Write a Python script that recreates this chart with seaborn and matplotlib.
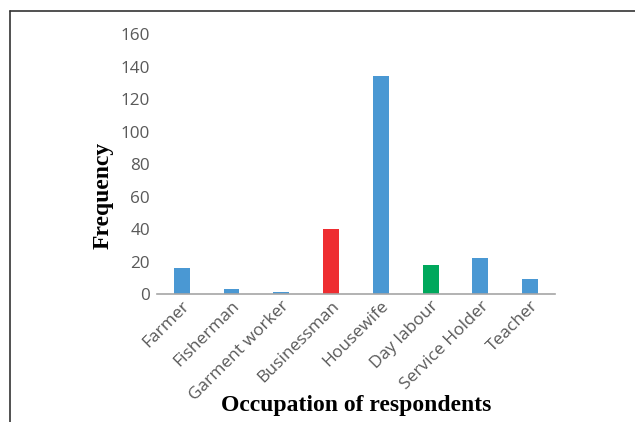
import matplotlib
matplotlib.use("Agg")
import matplotlib.pyplot as plt
from matplotlib.lines import Line2D
import seaborn as sns
import pandas as pd

occupations = ["Farmer", "Fisherman", "Garment worker", "Businessman",
               "Housewife", "Day labour", "Service Holder", "Teacher"]
frequency = [16, 3, 1, 40, 134, 18, 22, 9]
bar_colors = ["#4A98D3", "#4A98D3", "#4A98D3", "#EE2D31",
              "#4A98D3", "#00A85C", "#4A98D3", "#4A98D3"]
y_ticks = [0, 20, 40, 60, 80, 100, 120, 140, 160]

df = pd.DataFrame({"Occupation": occupations, "Frequency": frequency})

sns.set_theme(style="white")
plt.rcParams["font.family"] = ["Open Sans", "DejaVu Sans"]

fig = plt.figure(figsize=(6.35, 4.22), dpi=100)
ax = fig.add_axes([0.247, 0.3033, 0.627, 0.616])

sns.barplot(data=df, x="Occupation", y="Frequency", hue="Occupation",
            palette=bar_colors, width=0.32, legend=False, ax=ax,
            saturation=1, edgecolor="none")

ax.set_ylim(0, 160)
ax.set_xlim(-0.5, len(occupations) - 0.5)
ax.set_yticks(y_ticks)
ax.set_yticklabels([str(v) for v in y_ticks], color="#595959", fontsize=12.3)
ax.tick_params(axis="y", length=0, pad=5)
ax.tick_params(axis="x", length=0, pad=3)
for lbl in ax.get_xticklabels():
    lbl.set_rotation(45)
    lbl.set_ha("right")
    lbl.set_rotation_mode("anchor")
    lbl.set_color("#595959")
    lbl.set_fontsize(12.5)

for side in ["top", "right", "left"]:
    ax.spines[side].set_visible(False)
ax.spines["bottom"].set_color("#A6A6A6")
ax.spines["bottom"].set_linewidth(1.2)

ax.set_xlabel("")
ax.set_ylabel("")
fig.text(0.162, 0.538, "Frequency", rotation=90, ha="center", va="center",
         family="Liberation Serif", fontweight="bold", fontsize=17, color="black")
fig.text(0.561, 0.04, "Occupation of respondents", ha="center", va="center",
         family="Liberation Serif", fontweight="bold", fontsize=17, color="black")

# outer frame lines (top and left)
fig.add_artist(Line2D([10 / 635, 1.0], [1 - 11 / 422, 1 - 11 / 422],
                      transform=fig.transFigure, color="#333333", lw=1.2))
fig.add_artist(Line2D([10 / 635, 10 / 635], [0, 1 - 11 / 422],
                      transform=fig.transFigure, color="#333333", lw=1.2))

fig.savefig("out.png", dpi=100)
